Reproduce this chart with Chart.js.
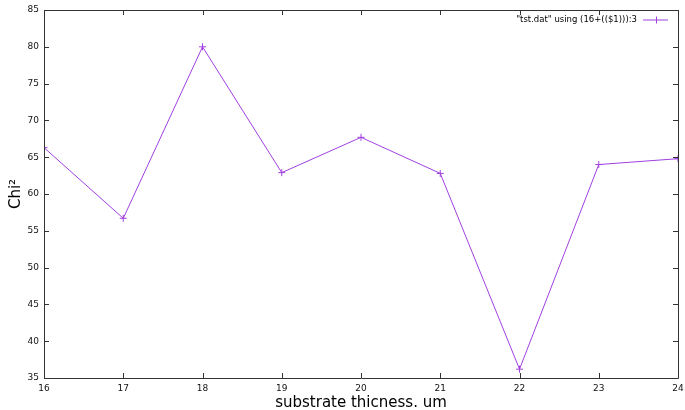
<!DOCTYPE html>
<html>
<head>
<meta charset="utf-8">
<script src="https://cdn.jsdelivr.net/npm/chart.js@4/dist/chart.umd.min.js"></script>
<style>
html,body{margin:0;padding:0;background:#fff;}
#wrap{width:685px;height:410px;position:relative;}
</style>
</head>
<body>
<div id="wrap"><canvas id="c" width="685" height="410"></canvas></div>
<script>
const thickness = [16, 17, 18, 19, 20, 21, 22, 23, 24];
const chi2 = [66.3, 56.7, 80.0, 62.9, 67.7, 62.8, 36.2, 64.0, 64.8];
const xTicks = [16, 17, 18, 19, 20, 21, 22, 23, 24];
const yTicks = [35, 40, 45, 50, 55, 60, 65, 70, 75, 80, 85];
const seriesLabel = '"tst.dat" using (16+(($1))):3';
const xTitle = 'substrate thicness. um';
const yTitle = 'Chi²';

const LINE = '#a040e0';
const FONT = 'DejaVu Sans, sans-serif';

const framePlugin = {
  id: 'frame',
  afterDraw(chart) {
    const ctx = chart.ctx, a = chart.chartArea;
    const xs = chart.scales.x, ys = chart.scales.y;
    ctx.save();
    ctx.strokeStyle = '#333';
    ctx.lineWidth = 1;
    ctx.beginPath();
    ctx.rect(Math.round(a.left) + 0.5, Math.round(a.top) + 0.5, Math.round(a.right - a.left), Math.round(a.bottom - a.top));
    ctx.stroke();
    ctx.beginPath();
    const L = 5;
    xTicks.forEach(v => {
      const px = Math.round(xs.getPixelForValue(v)) + 0.5;
      ctx.moveTo(px, a.bottom); ctx.lineTo(px, a.bottom - L);
      ctx.moveTo(px, a.top); ctx.lineTo(px, a.top + L);
    });
    yTicks.forEach(v => {
      const py = Math.round(ys.getPixelForValue(v)) + 0.5;
      ctx.moveTo(a.left, py); ctx.lineTo(a.left + L, py);
      ctx.moveTo(a.right, py); ctx.lineTo(a.right - L, py);
    });
    ctx.stroke();
    // legend
    ctx.font = '8.5px ' + FONT;
    ctx.fillStyle = '#000';
    ctx.textAlign = 'right';
    ctx.textBaseline = 'middle';
    const ly = a.top + 9.5;
    ctx.fillText(seriesLabel, a.right - 41, ly);
    ctx.strokeStyle = LINE;
    ctx.beginPath();
    ctx.moveTo(a.right - 35, ly + 0.5); ctx.lineTo(a.right - 10, ly + 0.5);
    const cx = Math.round(a.right - 22) + 0.5;
    ctx.moveTo(cx, ly - 3); ctx.lineTo(cx, ly + 4);
    ctx.stroke();
    // axis titles
    ctx.fillStyle = '#000';
    ctx.font = '15px ' + FONT;
    ctx.textAlign = 'center';
    ctx.textBaseline = 'middle';
    ctx.fillText(xTitle, (a.left + a.right) / 2, 403);
    ctx.save();
    ctx.translate(16, (a.top + a.bottom) / 2);
    ctx.rotate(-Math.PI / 2);
    ctx.fillText(yTitle, 0, 0);
    ctx.restore();
    ctx.restore();
  }
};

new Chart(document.getElementById('c'), {
  type: 'line',
  data: {
    datasets: [{
      label: seriesLabel,
      data: thickness.map((t, i) => ({x: t, y: chi2[i]})),
      borderColor: LINE,
      backgroundColor: LINE,
      borderWidth: 1,
      pointStyle: 'cross',
      pointRadius: 3.5,
      pointBorderWidth: 1,
      pointBorderColor: LINE,
      tension: 0,
      fill: false
    }]
  },
  options: {
    responsive: false,
    animation: false,
    events: [],
    layout: {padding: {top: 10, right: 7, left: 0, bottom: 0}},
    plugins: {legend: {display: false}, tooltip: {enabled: false}},
    scales: {
      x: {
        type: 'linear', min: 16, max: 24,
        afterBuildTicks: s => { s.ticks = xTicks.map(v => ({value: v})); },
        afterFit: s => { s.height = 32; s.paddingLeft = 0; s.paddingRight = 0; },
        grid: {display: false, drawTicks: false},
        border: {display: false},
        ticks: {padding: 5, color: '#111', font: {family: FONT, size: 9}, maxRotation: 0, autoSkip: false}
      },
      y: {
        type: 'linear', min: 35, max: 85,
        afterBuildTicks: s => { s.ticks = yTicks.map(v => ({value: v})); },
        afterFit: s => { s.width = 44; s.paddingTop = 0; s.paddingBottom = 0; },
        grid: {display: false, drawTicks: false},
        border: {display: false},
        ticks: {padding: 5, color: '#111', font: {family: FONT, size: 9}, autoSkip: false}
      }
    }
  },
  plugins: [framePlugin]
});
</script>
</body>
</html>
